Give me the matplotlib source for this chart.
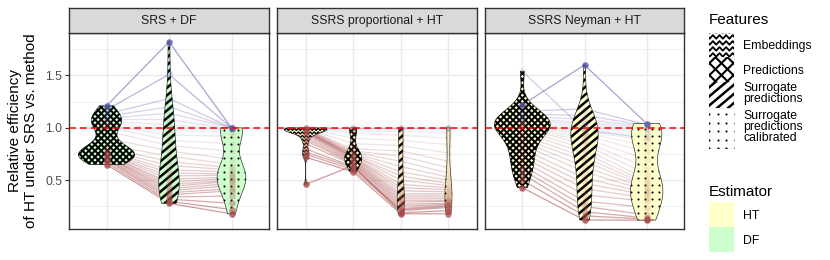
import numpy as np
import matplotlib

matplotlib.use("Agg")
import matplotlib.pyplot as plt
from matplotlib.patches import Polygon, Rectangle
from matplotlib.collections import LineCollection
from matplotlib.transforms import IdentityTransform

plt.rcParams["font.family"] = ["Liberation Sans", "DejaVu Sans"]

W, H = 830, 260

panel_titles = ["SRS + DF", "SSRS proportional + HT", "SSRS Neyman + HT"]
panel_estimators = ["DF", "HT", "HT"]
feature_labels = [
    ["Embeddings"],
    ["Predictions"],
    ["Surrogate", "predictions"],
    ["Surrogate", "predictions", "calibrated"],
]
estimator_labels = ["HT", "DF"]

# relative efficiency per dataset, same dataset order inside a panel
srs_df_predictions = [1.21, 1.17, 1.13, 1.11, 1.09, 1.08, 1.06, 1.05, 1.03, 1.01,
                      0.97, 0.90, 0.84, 0.81, 0.79, 0.78, 0.77, 0.76, 0.76, 0.75,
                      0.75, 0.74, 0.73, 0.73, 0.72, 0.71, 0.70, 0.69, 0.67, 0.65]
srs_df_surrogate = [1.82, 1.51, 1.28, 1.20, 1.14, 1.08, 1.03, 0.98, 0.93, 0.88,
                    0.83, 0.78, 0.73, 0.68, 0.64, 0.60, 0.57, 0.54, 0.51, 0.48,
                    0.46, 0.44, 0.42, 0.40, 0.38, 0.36, 0.34, 0.32, 0.30, 0.28]
srs_df_calibrated = [1.00, 1.00, 1.00, 1.00, 1.00, 0.99, 0.98, 0.96, 0.92, 0.85,
                     0.78, 0.70, 0.65, 0.62, 0.60, 0.58, 0.56, 0.55, 0.53, 0.52,
                     0.50, 0.49, 0.47, 0.45, 0.42, 0.40, 0.35, 0.28, 0.22, 0.18]

prop_embeddings = [1.00, 1.00, 1.00, 1.00, 1.00, 1.00, 1.00, 0.99, 0.99, 0.99,
                   0.99, 0.98, 0.98, 0.98, 0.97, 0.97, 0.97, 0.96, 0.96, 0.95,
                   0.94, 0.92, 0.90, 0.88, 0.85, 0.80, 0.77, 0.75, 0.72, 0.46]
prop_predictions = [1.00, 1.00, 1.00, 0.99, 0.97, 0.95, 0.90, 0.85, 0.80, 0.78,
                    0.77, 0.76, 0.75, 0.74, 0.74, 0.73, 0.72, 0.72, 0.71, 0.70,
                    0.69, 0.68, 0.67, 0.66, 0.65, 0.63, 0.62, 0.60, 0.58, 0.64]
prop_surrogate = [1.00, 1.00, 1.00, 1.00, 0.97, 0.93, 0.88, 0.83, 0.78, 0.73,
                  0.68, 0.63, 0.58, 0.54, 0.50, 0.46, 0.43, 0.40, 0.37, 0.35,
                  0.33, 0.31, 0.29, 0.27, 0.25, 0.23, 0.22, 0.21, 0.18, 0.19]
prop_calibrated = [1.00, 1.00, 1.00, 1.00, 0.95, 0.90, 0.84, 0.76, 0.68, 0.62,
                   0.57, 0.53, 0.50, 0.47, 0.45, 0.43, 0.41, 0.39, 0.37, 0.35,
                   0.33, 0.31, 0.30, 0.28, 0.27, 0.26, 0.25, 0.24, 0.18, 0.21]

neyman_predictions = [1.54, 1.22, 1.16, 1.13, 1.11, 1.09, 1.08, 1.07, 1.06, 1.05,
                      1.04, 1.03, 1.02, 1.01, 1.00, 0.98, 0.96, 0.93, 0.90, 0.87,
                      0.84, 0.80, 0.76, 0.72, 0.68, 0.64, 0.60, 0.56, 0.50, 0.43]
neyman_surrogate = [0.98, 1.60, 1.18, 1.12, 1.08, 1.05, 1.03, 1.01, 0.99, 0.97,
                    0.95, 0.93, 0.90, 0.87, 0.84, 0.80, 0.76, 0.72, 0.68, 0.63,
                    0.58, 0.52, 0.47, 0.42, 0.36, 0.30, 0.25, 0.20, 0.16, 0.12]
neyman_calibrated = [0.90, 1.04, 1.03, 1.02, 1.01, 1.00, 0.98, 0.95, 0.92, 0.88,
                     0.83, 0.77, 0.70, 0.62, 0.56, 0.51, 0.48, 0.46, 0.44, 0.42,
                     0.40, 0.38, 0.36, 0.33, 0.30, 0.24, 0.17, 0.14, 0.13, 0.12]

# (feature index, values) per panel
panels = [
    [(1, srs_df_predictions), (2, srs_df_surrogate), (3, srs_df_calibrated)],
    [(0, prop_embeddings), (1, prop_predictions), (2, prop_surrogate), (3, prop_calibrated)],
    [(1, neyman_predictions), (2, neyman_surrogate), (3, neyman_calibrated)],
]

# widest point of each violin, as a share of the category spacing
violin_widths = [[0.9, 0.33, 0.46], [0.9, 0.36, 0.15, 0.15], [0.9, 0.44, 0.52]]

fill_colors = {"HT": "#FFFFCC", "DF": "#CCFFCC"}
BLUE = "#5a5aaa"
RED = "#a84a4a"

# pattern settings for violins and for legend keys (pixel units, linewidth in pt)
violin_patterns = [("zigzag", 3.6, 1.0), ("cross", 4.4, 1.45), ("stripe", 5.8, 1.8), ("dots", 7.0, 1.5)]
key_patterns = [("zigzag", 6.0, 1.3), ("cross", 8.5, 1.5), ("stripe", 7.0, 1.8), ("dots", 8.5, 1.5)]
STRIPE_ANGLE = 40


def px_rect(x0, y0, x1, y1):
    return [x0 / W, 1 - y1 / H, (x1 - x0) / W, (y1 - y0) / H]


def violin_density(vals):
    v = np.asarray(vals, float)
    n = len(v)
    sd = v.std(ddof=1)
    q75, q25 = np.percentile(v, [75, 25])
    lo = min(sd, (q75 - q25) / 1.34)
    if lo <= 0:
        lo = sd
    bw = 0.9 * lo * n ** -0.2
    y = np.linspace(v.min(), v.max(), 300)
    d = np.exp(-0.5 * ((y[:, None] - v[None, :]) / bw) ** 2).sum(axis=1)
    d /= n * bw * np.sqrt(2 * np.pi)
    return y, d


def line_family(cx, cy, R, angle, sp):
    a = np.deg2rad(angle)
    dx, dy = np.cos(a), np.sin(a)
    nx, ny = -dy, dx
    segs = []
    for t in np.arange(-R, R + sp, sp):
        px, py = cx + t * nx, cy + t * ny
        segs.append([(px - R * dx, py - R * dy), (px + R * dx, py + R * dy)])
    return segs


def add_pattern(ax, patch, kind, sp, lw, zorder=2.5):
    bb = patch.get_extents()
    x0, y0, x1, y1 = bb.x0 - sp, bb.y0 - sp, bb.x1 + sp, bb.y1 + sp
    cx, cy = (x0 + x1) / 2, (y0 + y1) / 2
    R = np.hypot(x1 - x0, y1 - y0) / 2
    if kind == "dots":
        gx, gy = np.meshgrid(np.arange(x0, x1, sp), np.arange(y0, y1, sp))
        (art,) = ax.plot(gx.ravel(), gy.ravel(), "o", ms=lw, color="black", mew=0,
                         transform=IdentityTransform(), zorder=zorder)
    else:
        if kind == "zigzag":
            tooth, amp = sp * 1.1, sp * 0.6
            xs = np.arange(x0, x1 + tooth, tooth / 2)
            segs = []
            for yy in np.arange(y0, y1, sp):
                ys = yy + amp * (np.arange(len(xs)) % 2)
                segs.append(np.column_stack([xs, ys]))
        elif kind == "cross":
            segs = line_family(cx, cy, R, 45, sp) + line_family(cx, cy, R, 135, sp)
        else:
            segs = line_family(cx, cy, R, STRIPE_ANGLE, sp)
        art = LineCollection(segs, colors="black", linewidths=lw,
                             transform=IdentityTransform(), zorder=zorder)
        ax.add_collection(art, autolim=False)
    art.set_clip_path(patch)


fig = plt.figure(figsize=(W / 100, H / 100), dpi=100)

all_vals = np.concatenate([np.asarray(v) for cats in panels for _, v in cats])
lo, hi = all_vals.min(), all_vals.max()
pad = 0.05 * (hi - lo)
ylim = (lo - pad, hi + pad)

panel_px = [(69, 269), (277, 477), (485, 684)]
top, bottom, strip_top = 33, 229, 8

for p, (xa, xb) in enumerate(panel_px):
    cats = panels[p]
    ncat = len(cats)
    pos = np.arange(1, ncat + 1)
    ax = fig.add_axes(px_rect(xa, top, xb, bottom))
    ax.set_xlim(0.4, ncat + 0.6)
    ax.set_ylim(ylim)
    ax.set_xticks(pos)
    ax.set_yticks([0.5, 1.0, 1.5])
    ax.set_yticks([0.25, 0.75, 1.25, 1.75], minor=True)
    ax.grid(True, which="major", color="#ebebeb", lw=1.07, zorder=0)
    ax.grid(True, which="minor", axis="y", color="#ebebeb", lw=0.55, zorder=0)
    ax.set_axisbelow(True)
    ax.tick_params(axis="x", length=0, labelbottom=False)
    ax.tick_params(axis="y", which="minor", length=0)
    ax.tick_params(axis="y", which="major", length=2.75, width=0.8, color="#333333",
                   labelsize=8.8, labelcolor="#4d4d4d", pad=2.2, labelleft=(p == 0))
    if p > 0:
        ax.tick_params(axis="y", which="major", length=0)
    for s in ax.spines.values():
        s.set_color("#333333")
        s.set_linewidth(1.0)

    # strip
    sax = fig.add_axes(px_rect(xa, strip_top, xb, top))
    sax.set_facecolor("#d9d9d9")
    sax.set_xticks([])
    sax.set_yticks([])
    for s in sax.spines.values():
        s.set_color("#333333")
        s.set_linewidth(1.0)
    sax.text(0.5, 0.48, panel_titles[p], ha="center", va="center", fontsize=8.8,
             color="#1a1a1a", transform=sax.transAxes)

    mat = np.array([v for _, v in cats], float)
    score = np.log(mat).mean(axis=0)
    pos_max = max(score.max(), 1e-9)
    neg_max = max(-score.min(), 1e-9)
    rel = np.where(score >= 0, score / pos_max, -score / neg_max)
    rel = np.clip(rel, 0, 1)

    # connecting lines per dataset
    for i in range(mat.shape[1]):
        col = BLUE if score[i] >= 0 else RED
        ax.plot(pos, mat[:, i], color=col, alpha=0.1 + 0.45 * rel[i], lw=0.9, zorder=1)

    # violins
    fill = fill_colors[panel_estimators[p]]
    for k, (fi, vals) in enumerate(cats):
        y, d = violin_density(vals)
        hw = violin_widths[p][k] / 2 * d / d.max()
        xs = np.concatenate([pos[k] + hw, (pos[k] - hw)[::-1]])
        ys = np.concatenate([y, y[::-1]])
        poly = Polygon(np.column_stack([xs, ys]), closed=True, facecolor=fill,
                       edgecolor="#333333", lw=0.5, zorder=2)
        ax.add_patch(poly)
        kind, sp, lw = violin_patterns[fi]
        add_pattern(ax, poly, kind, sp, lw)

    # points
    for i in range(mat.shape[1]):
        col = BLUE if score[i] >= 0 else RED
        ax.scatter(pos, mat[:, i], s=22, color=col, alpha=0.1 + 0.72 * rel[i] ** 4,
                   lw=0, zorder=3)

    ax.axhline(1.0, color="red", ls=(0, (4.5, 2.6)), lw=1.1, zorder=4)

fig.text(23 / W, 1 - 131 / H, "Relative efficiency\nof HT under SRS vs. method",
         rotation=90, ha="center", va="center", fontsize=11, multialignment="center")

# legend, drawn in pixel coordinates
lax = fig.add_axes([0, 0, 1, 1])
lax.set_xlim(0, W)
lax.set_ylim(H, 0)
lax.axis("off")

lax.text(709, 24.2, "Features", fontsize=11, va="baseline", ha="left")
key_rows = [(33.3, 56.7), (56.7, 81.7), (81.7, 108.3), (108.3, 148.3)]
label_baselines = [[48.8], [73.8], [91.4, 102.0], [118.8, 129.7, 140.7]]
for j, (ya, yb) in enumerate(key_rows):
    rect = Rectangle((709, ya), 25, yb - ya, facecolor="white", edgecolor="#ebebeb",
                     lw=0.5, zorder=1)
    lax.add_patch(rect)
    kind, sp, lw = key_patterns[j]
    add_pattern(lax, rect, kind, sp, lw, zorder=2)
    for line, yl in zip(feature_labels[j], label_baselines[j]):
        lax.text(743, yl, line, fontsize=8.8, va="baseline", ha="left")

lax.text(709, 196, "Estimator", fontsize=11, va="baseline", ha="left")
est_rows = [(201.7, 226.7), (226.7, 251.7)]
est_baselines = [218.8, 243.8]
for lab, (ya, yb), yl in zip(estimator_labels, est_rows, est_baselines):
    lax.add_patch(Rectangle((709, ya), 25, yb - ya, facecolor=fill_colors[lab],
                            edgecolor="none", zorder=1))
    lax.text(743, yl, lab, fontsize=8.8, va="baseline", ha="left")

fig.savefig("out.png", dpi=100)
